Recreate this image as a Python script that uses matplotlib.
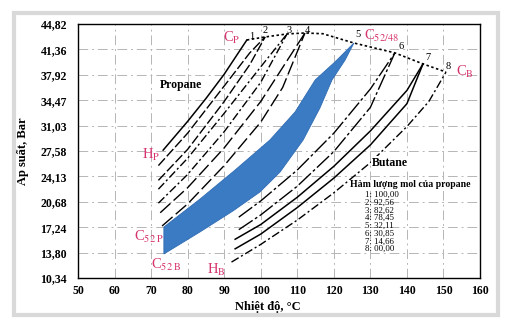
import numpy as np
import matplotlib.pyplot as plt
from matplotlib.patches import Rectangle

plt.rcParams['font.family'] = ['Liberation Serif', 'DejaVu Serif']
plt.rcParams['mathtext.fontset'] = 'stix'

# axis ticks
x_ticks = [50, 60, 70, 80, 90, 100, 110, 120, 130, 140, 150, 160]
y_ticks = [10.34, 13.80, 17.24, 20.68, 24.13, 27.58, 31.03, 34.47, 37.92, 41.36, 44.82]
y_labels = ['10,34', '13,80', '17,24', '20,68', '24,13', '27,58', '31,03', '34,47',
            '37,92', '41,36', '44,82']

# 1 - propane
t_1 = [73.3, 80, 85, 90, 96.2]
p_1 = [27.7, 31.6, 34.7, 38.0, 42.65]
# 2
t_2b = [72.0, 80, 90, 97, 101.2]
p_2b = [25.6, 30.0, 36.4, 40.9, 43.06]
t_2d = [72.0, 80, 90, 97, 101.2]
p_2d = [23.6, 27.8, 34.3, 39.3, 43.06]
# 3
t_3b = [72.0, 80, 90, 100, 107.2]
p_3b = [22.4, 26.6, 32.7, 39.0, 43.47]
t_3d = [72.0, 80, 90, 100, 107.2]
p_3d = [20.5, 24.4, 30.2, 36.9, 43.47]
# 4
t_4b = [72.5, 80, 90, 100, 112.1]
p_4b = [19.2, 22.6, 28.0, 34.3, 43.6]
t_4d = [73.0, 80, 90, 100, 106, 112.1]
p_4d = [17.4, 20.4, 25.6, 31.5, 36.2, 43.6]
# 5 - C52/48 band
band_top_t = [73.5, 83.4, 93.0, 102.5, 109.4, 114.9, 120.3, 125.5]
band_top_p = [17.26, 21.06, 25.0, 29.07, 32.88, 37.22, 39.66, 42.24]
band_bot_t = [73.5, 83.4, 92.4, 99.8, 105.3, 111.6, 116.2, 119.5, 123.1, 125.5]
band_bot_p = [13.6, 16.6, 19.44, 22.02, 24.73, 29.07, 33.42, 37.22, 39.94, 42.24]
# 6
t_6b = [94, 100, 110, 120, 130, 136.7]
p_6b = [18.6, 20.8, 25.0, 30.0, 36.0, 40.9]
t_6d = [94, 100, 110, 120, 130, 136.7]
p_6d = [16.9, 18.9, 22.8, 27.5, 33.5, 40.9]
# 7
t_7b = [93, 100, 110, 120, 130, 140, 144.4]
p_7b = [15.6, 17.6, 21.3, 25.5, 30.3, 35.8, 39.4]
t_7d = [93, 100, 110, 120, 130, 140, 144.4]
p_7d = [14.3, 16.3, 19.9, 23.9, 28.4, 34.0, 39.4]
# 8 - butane
t_8 = [92, 100, 110, 120, 130, 140, 146, 150.7]
p_8 = [12.5, 14.9, 18.2, 21.9, 26.0, 30.9, 34.3, 38.3]

# critical point locus
crit_t = [96.2, 101.2, 107.2, 112.1, 117.0, 125.5, 136.7, 144.4, 150.7]
crit_p = [42.65, 43.06, 43.47, 43.6, 43.5, 42.24, 40.9, 39.4, 38.3]

legend_title = 'Hàm lượng mol của propane'
legend_names = ['1: 100,00', '2: 92,56', '3: 82,62', '4: 78,45',
                '5: 32,11', '6: 30,85', '7: 14,66', '8: 00,00']

pink = '#d6336e'

fig = plt.figure(figsize=(5.1, 3.25), dpi=100)
fig.patches.append(Rectangle((14/510, 10/325), 484/510, 302/325, transform=fig.transFigure,
                             fill=False, edgecolor='#d9d9d9', lw=3))
ax = fig.add_axes([78/510, 47/325, 402/510, 254/325])

ax.set_xlim(50, 160)
ax.set_ylim(10.34, 44.82)
ax.set_xticks(x_ticks)
ax.set_yticks(y_ticks)
ax.set_yticklabels(y_labels)
ax.tick_params(length=0, labelsize=8.5)
ax.tick_params(axis='y', pad=8)
ax.tick_params(axis='x', pad=5)
for lab in ax.get_xticklabels() + ax.get_yticklabels():
    lab.set_fontweight('bold')
ax.grid(True, color='#b5b5b5', lw=0.7, linestyle=(0, (10, 4, 2, 4)))
for s in ax.spines.values():
    s.set_color('black')
    s.set_linewidth(1.0)

# two phase band
ax.fill(band_top_t + band_bot_t[::-1], band_top_p + band_bot_p[::-1],
        color='#3b7bc4', edgecolor='#2f6cb3', lw=0.6, zorder=3)

ax.plot(t_1, p_1, color='black', lw=1.1)
ax.plot(t_2b, p_2b, color='black', lw=1.0, ls=(0, (7, 2)))
ax.plot(t_2d, p_2d, color='black', lw=1.0, ls=(0, (7, 2)))
ax.plot(t_3b, p_3b, color='black', lw=1.0, ls=(0, (6, 2, 1.5, 2)))
ax.plot(t_3d, p_3d, color='black', lw=1.0, ls=(0, (6, 2, 1.5, 2)))
ax.plot(t_4b, p_4b, color='black', lw=1.0, ls=(0, (10, 3)))
ax.plot(t_4d, p_4d, color='black', lw=1.0, ls=(0, (10, 3)))
ax.plot(t_6b, p_6b, color='black', lw=1.0, ls=(0, (12, 2, 2, 2)))
ax.plot(t_6d, p_6d, color='black', lw=1.0, ls=(0, (12, 2, 2, 2)))
ax.plot(t_7b, p_7b, color='black', lw=1.1)
ax.plot(t_7d, p_7d, color='black', lw=1.1)
ax.plot(t_8, p_8, color='black', lw=1.0, ls=(0, (6, 2, 1.5, 2)))
ax.plot(crit_t, crit_p, color='black', lw=1.2, ls=(0, (1.5, 1.5)))

# curve numbers
num_pos = [(97.4, 43.1), (101.2, 43.9), (107.7, 43.9), (112.9, 44.0),
           (126.6, 43.33), (138.4, 41.7), (145.8, 40.3), (151.2, 39.1)]
for i, (tx, ty) in enumerate(num_pos):
    ax.text(tx, ty, str(i + 1), fontsize=7.5, ha='center', va='center', zorder=5)

# pink point labels
ax.text(89.6, 42.9, r'C$_\mathrm{P}$', color=pink, fontsize=10.5, ha='left', va='center')
ax.text(128.3, 43.2, r'C$_{\mathrm{52/48}}$', color=pink, fontsize=10.5, ha='left', va='center')
ax.text(153.3, 38.3, r'C$_\mathrm{B}$', color=pink, fontsize=10.5, ha='left', va='center')
ax.text(67.6, 27.0, r'H$_\mathrm{P}$', color=pink, fontsize=10.5, ha='left', va='center')
ax.text(65.4, 15.9, r'C$_{\mathrm{52\ P}}$', color=pink, fontsize=10.5, ha='left', va='center')
ax.text(70.0, 12.1, r'C$_{\mathrm{52\ B}}$', color=pink, fontsize=10.5, ha='left', va='center')
ax.text(85.4, 11.4, r'H$_\mathrm{B}$', color=pink, fontsize=10.5, ha='left', va='center')

ax.text(72.4, 36.5, 'Propane', fontsize=8.5, fontweight='bold', ha='left', va='center')
ax.text(130.4, 26.0, 'Butane', fontsize=8.5, fontweight='bold', ha='left', va='center',
        zorder=6, bbox=dict(facecolor='white', edgecolor='none', pad=0.5))

ax.text(124.4, 22.97, legend_title, fontsize=7, fontweight='bold', ha='left', va='center',
        zorder=6, bbox=dict(facecolor='white', edgecolor='none', pad=0.5))
for i, name in enumerate(legend_names):
    ax.text(128.5, 21.61 - 1.05 * i, name, fontsize=6.3, ha='left', va='center', zorder=6)

ax.set_xlabel('Nhiệt độ, °C', fontsize=9, fontweight='bold', labelpad=3)
ax.xaxis.label.set_x(0.473)
ax.set_ylabel('Áp suất, Bar', fontsize=9, fontweight='bold', labelpad=8)

fig.savefig('out.png', dpi=100)
